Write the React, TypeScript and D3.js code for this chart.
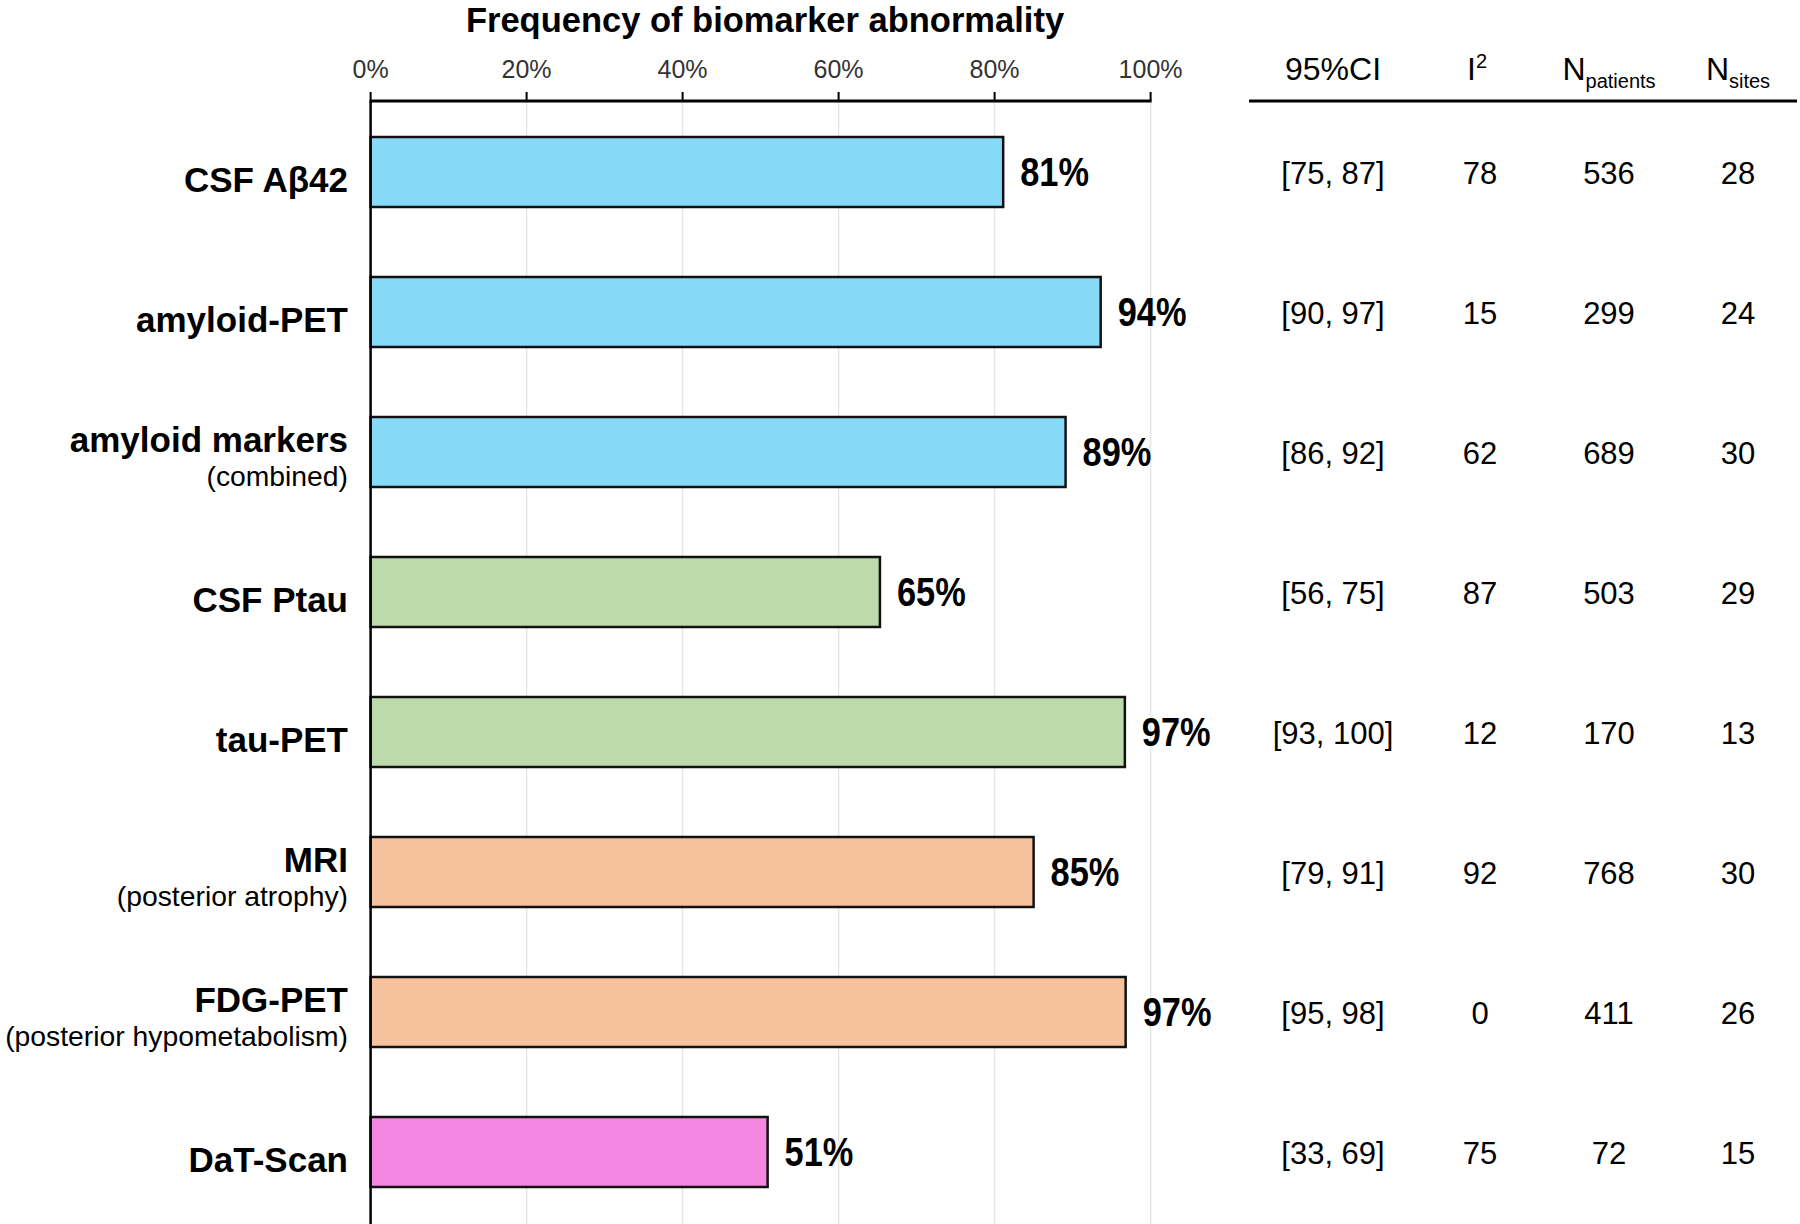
import React from "react";
import * as d3 from "d3";

const markers = ["CSF Aβ42", "amyloid-PET", "amyloid markers", "CSF Ptau", "tau-PET", "MRI", "FDG-PET", "DaT-Scan"];
const subLabels = ["", "", "(combined)", "", "", "(posterior atrophy)", "(posterior hypometabolism)", ""];
const groups = ["amyloid", "amyloid", "amyloid", "tau", "tau", "neuro", "neuro", "dat"];
const frequency = [81.1, 93.6, 89.1, 65.3, 96.7, 85.0, 96.8, 50.9];
const ciText = ["[75, 87]", "[90, 97]", "[86, 92]", "[56, 75]", "[93, 100]", "[79, 91]", "[95, 98]", "[33, 69]"];
const i2Values = [78, 15, 62, 87, 12, 92, 0, 75];
const nPatients = [536, 299, 689, 503, 170, 768, 411, 72];
const nSites = [28, 24, 30, 29, 13, 30, 26, 15];
const xTicks = [0, 20, 40, 60, 80, 100];
const groupNames = ["amyloid", "tau", "neuro", "dat"];
const groupColors = ["#7fd7f7", "#b9d8a6", "#f5bf98", "#f17fdf"];

const W = 1800;
const H = 1224;
const FONT = "'Liberation Sans', Arial, Helvetica, sans-serif";

export default function App() {
  const x = d3.scaleLinear().domain([0, 100]).range([370.6, 1150.6]);
  const y = d3.scaleBand<string>().domain(markers).range([102, 1222]).paddingInner(0.5).paddingOuter(0.25);
  const color = d3.scaleOrdinal<string, string>().domain(groupNames).range(groupColors);
  const bw = y.bandwidth();
  const axisY = 101;
  const colX = [1333, 1480, 1609, 1738];

  return (
    <svg
      width={W}
      height={H}
      style={{ position: "absolute", left: 0, top: 0, display: "block", background: "#fff" }}
      fontFamily={FONT}
    >
      <rect x={0} y={0} width={W} height={H} fill="#fff" />
      {/* gridlines */}
      {xTicks.filter((t) => t > 0).map((t) => (
        <line key={"g" + t} x1={x(t)} x2={x(t)} y1={axisY} y2={H} stroke="#e6e6e6" strokeWidth={1.5} />
      ))}
      {/* bars */}
      {markers.map((m, i) => (
        <rect
          key={"b" + m}
          x={x(0)}
          y={y(m)!}
          width={x(frequency[i]) - x(0)}
          height={bw}
          fill={color(groups[i])}
          fillOpacity={0.95}
          stroke="#111"
          strokeWidth={2.5}
        />
      ))}
      {/* value labels */}
      {markers.map((m, i) => {
        const cy = y(m)! + bw / 2;
        return (
          <g key={"v" + m} transform={`translate(${x(frequency[i]) + 17},${cy + 14}) scale(0.86,1)`}>
            <text x={0} y={0} fontSize={40} fontWeight="bold" fill="#000">
              {Math.round(frequency[i]) + "%"}
            </text>
          </g>
        );
      })}
      {/* left axis */}
      <line x1={x(0)} x2={x(0)} y1={axisY} y2={H} stroke="#000" strokeWidth={2.5} />
      {/* top axis */}
      <line x1={x(0) - 1} x2={x(100) + 1} y1={axisY} y2={axisY} stroke="#000" strokeWidth={3} />
      {xTicks.map((t) => (
        <g key={"t" + t}>
          <line x1={x(t)} x2={x(t)} y1={axisY} y2={axisY - 9} stroke="#000" strokeWidth={2} />
          <text x={x(t)} y={78} textAnchor="middle" fontSize={25} fill="#333">
            {t + "%"}
          </text>
        </g>
      ))}
      <text x={765} y={32} textAnchor="middle" fontSize={34.5} fontWeight="bold" fill="#000">
        Frequency of biomarker abnormality
      </text>
      {/* category labels */}
      {markers.map((m, i) => {
        const cy = y(m)! + bw / 2;
        const sub = subLabels[i];
        return (
          <g key={"l" + m}>
            <text x={348} y={sub ? cy : cy + 20} textAnchor="end" fontSize={35} fontWeight="bold" fill="#000">
              {m}
            </text>
            {sub && (
              <text x={348} y={cy + 34} textAnchor="end" fontSize={28.3} fill="#000">
                {sub}
              </text>
            )}
          </g>
        );
      })}
      {/* table header */}
      <text x={colX[0]} y={80} textAnchor="middle" fontSize={32} fill="#000">95%CI</text>
      <text x={colX[1] - 3} y={80} textAnchor="middle" fontSize={32} fill="#000">
        I<tspan fontSize={20} dy={-12}>2</tspan>
      </text>
      <text x={colX[2]} y={80} textAnchor="middle" fontSize={32} fill="#000">
        N<tspan fontSize={20} dy={8}>patients</tspan>
      </text>
      <text x={colX[3]} y={80} textAnchor="middle" fontSize={32} fill="#000">
        N<tspan fontSize={20} dy={8}>sites</tspan>
      </text>
      <line x1={1249} x2={1797} y1={axisY} y2={axisY} stroke="#000" strokeWidth={3} />
      {/* table rows */}
      {markers.map((m, i) => {
        const cy = y(m)! + bw / 2 + 12;
        return (
          <g key={"r" + m} fontSize={31} fill="#000">
            <text x={colX[0]} y={cy} textAnchor="middle">{ciText[i]}</text>
            <text x={colX[1]} y={cy} textAnchor="middle">{i2Values[i]}</text>
            <text x={colX[2]} y={cy} textAnchor="middle">{nPatients[i]}</text>
            <text x={colX[3]} y={cy} textAnchor="middle">{nSites[i]}</text>
          </g>
        );
      })}
    </svg>
  );
}
